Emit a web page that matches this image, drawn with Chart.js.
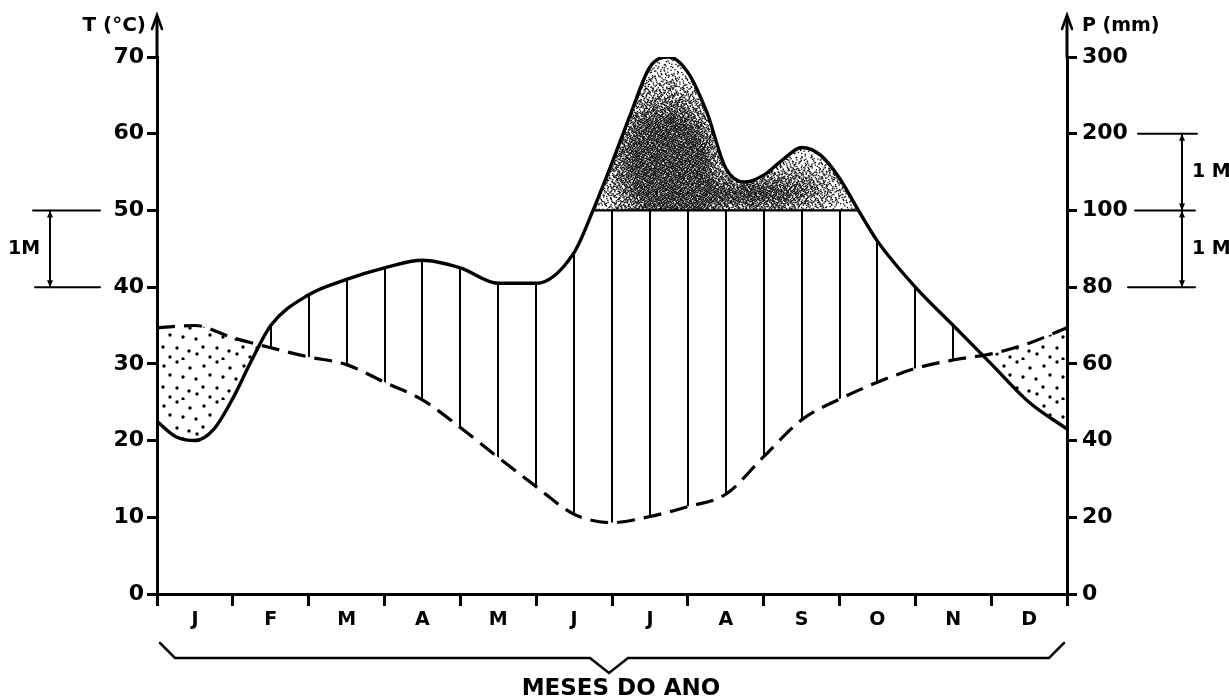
<!DOCTYPE html>
<html>
<head>
<meta charset="utf-8">
<script src="https://cdn.jsdelivr.net/npm/chart.js@4.4.1/dist/chart.umd.min.js"></script>
<style>
html,body{margin:0;padding:0;background:#fff;}
canvas{display:block;}
</style>
</head>
<body>
<canvas id="c" width="1229" height="700"></canvas>
<script>
// ---- data ----
const monthLabels = ['J','F','M','A','M','J','J','A','S','O','N','D'];
const leftTickLabels = ['0','10','20','30','40','50','60','70'];
const rightTickLabels = ['0','20','40','60','80','100','200','300'];

// temperature (°C), dashed curve
const tempMonths = [0,0.5,1,1.5,2,2.5,3,3.5,4,4.5,5,5.5,6,6.5,7,7.5,8,8.5,9,9.5,10,10.5,11,11.5,12];
const tempValues = [34.7,35.0,33.4,32.1,30.9,29.9,27.6,25.3,21.7,17.8,14.0,10.4,9.3,10.1,11.4,13.0,17.9,22.7,25.4,27.6,29.4,30.5,31.3,32.7,34.7];

// precipitation (mm), solid curve
const precipMonths = [0,0.25,0.5,0.75,1,1.25,1.5,2,2.5,3,3.5,4,4.5,5,5.5,5.75,6,6.25,6.5,6.75,7,7.25,7.5,7.75,8,8.25,8.5,8.75,9,9.25,9.5,10,10.5,11,11.5,12];
const precipMm = [45,41,40,43,51,61,70,78,82,85,87,85,81,81,89,100,162,227,287,300,280,228,155,137,146,166,182,172,142,100,92,80,70,60,50,43];

// Walter-Lieth scale: 10 °C = 20 mm up to 100 mm, then 10 °C = 100 mm
const toAxis = mm => mm <= 100 ? mm / 2 : 50 + (mm - 100) / 10;

const tempData = tempMonths.map((m, i) => ({x: m, y: tempValues[i]}));
const precipData = precipMonths.map((m, i) => ({x: m, y: toAxis(precipMm[i])}));
const precipCapped = precipData.map(p => ({x: p.x, y: Math.min(p.y, 50)}));

// ---- patterns ----
const FONT = '"DejaVu Sans", sans-serif';
const cache = {};
function fullCanvas(chart) {
  const c = document.createElement('canvas');
  c.width = chart.width; c.height = chart.height;
  return c;
}
function dotPattern(ctx) {
  if (cache.dots) return cache.dots;
  const c = document.createElement('canvas');
  c.width = 40; c.height = 40;
  const g = c.getContext('2d');
  g.fillStyle = '#000';
  [[4,6],[17,2],[30,8],[10,15],[23,17],[36,19],[3,27],[17,28],[29,31],[10,37],[23,39],[37,34]].forEach(([x, y]) => {
    g.beginPath(); g.arc(x, y, 1.7, 0, Math.PI * 2); g.fill();
  });
  cache.dots = ctx.chart.ctx.createPattern(c, 'repeat');
  return cache.dots;
}
function hatchPattern(ctx) {
  const chart = ctx.chart, xs = chart.scales && chart.scales.x;
  if (!xs || !chart.chartArea) return 'rgba(0,0,0,0)';
  const c = fullCanvas(chart), g = c.getContext('2d');
  g.strokeStyle = '#000'; g.lineWidth = 2;
  for (let k = 0; k <= 24; k++) {
    const x = Math.round(xs.getPixelForValue(k * 0.5));
    g.beginPath(); g.moveTo(x, 0); g.lineTo(x, c.height); g.stroke();
  }
  return chart.ctx.createPattern(c, 'no-repeat');
}
function halton(i, b) { let f = 1, r = 0; while (i > 0) { f /= b; r += f * (i % b); i = Math.floor(i / b); } return r; }
function stipplePattern(ctx) {
  const chart = ctx.chart, xs = chart.scales && chart.scales.x, ys = chart.scales && chart.scales.y;
  if (!xs || !ys || !chart.chartArea) return 'rgba(0,0,0,0.4)';
  const c = fullCanvas(chart), g = c.getContext('2d');
  // density blobs: month, value, sigma x (px), sigma y (px), strength
  const blobs = [[6.6, 56, 34, 48, 1.15], [6.95, 55.5, 22, 38, 0.7], [7.8, 52, 36, 12, 0.75], [8.45, 53.3, 36, 20, 0.45]];
  const P = blobs.map(([m, v, sx, sy, a]) => [xs.getPixelForValue(m), ys.getPixelForValue(v), sx, sy, a]);
  const x0 = xs.getPixelForValue(5.6), x1 = xs.getPixelForValue(9.4);
  const y0 = ys.getPixelForValue(71), y1 = ys.getPixelForValue(50);
  const w = x1 - x0, h = y1 - y0;
  g.fillStyle = '#000';
  const N = 30000;
  for (let i = 1; i <= N; i++) {
    const px = x0 + halton(i, 2) * w, py = y0 + halton(i, 3) * h;
    let d = 0.02;
    for (const [bx, by, sx, sy, a] of P) {
      const dx = px - bx, dy = py - by;
      d += a * Math.exp(-(dx * dx / (2 * sx * sx) + dy * dy / (2 * sy * sy)));
    }
    if (halton(i, 7) < Math.min(d, 0.96)) g.fillRect(px, py, 1.3, 1.3);
  }
  return chart.ctx.createPattern(c, 'no-repeat');
}

// ---- decorations ----
function seg(ctx, x1, y1, x2, y2) { ctx.beginPath(); ctx.moveTo(x1, y1); ctx.lineTo(x2, y2); ctx.stroke(); }
function tip(ctx, x, y, dir) { // small arrow tip; dir -1 up, +1 down
  ctx.beginPath(); ctx.moveTo(x, y); ctx.lineTo(x - 3, y - dir * 7); ctx.lineTo(x + 3, y - dir * 7); ctx.closePath(); ctx.fill();
}
const decor = {
  id: 'decor',
  afterDraw(chart) {
    const {ctx, chartArea: a, scales: {y: ys}} = chart;
    ctx.save();
    ctx.strokeStyle = '#000'; ctx.fillStyle = '#000'; ctx.lineCap = 'round';
    // axis extensions with arrows
    const topY = a.top - 42;
    [a.left, a.right].forEach(ax => {
      ctx.lineWidth = 3;
      seg(ctx, ax, a.top, ax, topY + 2);
      ctx.lineWidth = 2.5;
      ctx.beginPath(); ctx.moveTo(ax - 5, topY + 14); ctx.lineTo(ax, topY); ctx.lineTo(ax + 5, topY + 14); ctx.stroke();
    });
    ctx.font = 'bold 20px ' + FONT;
    ctx.textBaseline = 'middle';
    ctx.textAlign = 'right';
    ctx.fillText('T (°C)', a.left - 11, topY + 11);
    ctx.textAlign = 'left';
    ctx.font = 'bold 19px ' + FONT;
    ctx.fillText('P (mm)', a.right + 15, topY + 11);

    // left 1M bracket
    const y60 = ys.getPixelForValue(60), y50 = ys.getPixelForValue(50), y40 = ys.getPixelForValue(40);
    ctx.lineWidth = 2;
    seg(ctx, a.left - 124, y50, a.left - 57, y50);
    seg(ctx, a.left - 122, y40, a.left - 57, y40);
    const bx = a.left - 107;
    seg(ctx, bx, y50, bx, y40);
    tip(ctx, bx, y50, -1); tip(ctx, bx, y40, 1);
    ctx.font = 'bold 19px ' + FONT;
    ctx.textAlign = 'center';
    ctx.fillText('1M', a.left - 133, (y50 + y40) / 2);

    // right 1M brackets
    seg(ctx, a.right + 71, y60, a.right + 130, y60);
    seg(ctx, a.right + 68, y50, a.right + 128, y50);
    seg(ctx, a.right + 61, y40, a.right + 128, y40);
    const rx = a.right + 115;
    seg(ctx, rx, y60, rx, y40);
    tip(ctx, rx, y60, -1); tip(ctx, rx, y50, 1); tip(ctx, rx, y50, -1); tip(ctx, rx, y40, 1);
    ctx.textAlign = 'left';
    ctx.fillText('1 M', a.right + 125, (y60 + y50) / 2);
    ctx.fillText('1 M', a.right + 125, (y50 + y40) / 2);

    // bottom brace
    const cx = (a.left + a.right) / 2, b = a.bottom;
    ctx.lineWidth = 2.5; ctx.lineJoin = 'miter';
    ctx.beginPath();
    ctx.moveTo(a.left + 3, b + 49);
    ctx.lineTo(a.left + 18, b + 64);
    ctx.lineTo(cx - 22, b + 64);
    ctx.lineTo(cx - 3, b + 79);
    ctx.lineTo(cx + 16, b + 64);
    ctx.lineTo(a.right - 18, b + 64);
    ctx.lineTo(a.right - 3, b + 49);
    ctx.stroke();
    ctx.font = 'bold 23px ' + FONT;
    ctx.textAlign = 'center';
    ctx.fillText('MESES DO ANO', cx + 9, b + 95);
    ctx.restore();
  }
};

Chart.defaults.font.family = FONT;
Chart.defaults.color = '#000';

new Chart(document.getElementById('c'), {
  type: 'line',
  data: {
    datasets: [
      {
        label: 'T (°C)',
        data: tempData,
        borderColor: '#000', borderWidth: 3.2, borderDash: [18, 9],
        backgroundColor: dotPattern,
        fill: {target: 1, below: 'rgba(0,0,0,0)'},
        pointRadius: 0, cubicInterpolationMode: 'monotone', order: 2
      },
      {
        label: 'P cap',
        data: precipCapped,
        borderColor: '#000', borderWidth: 2.2,
        segment: {
          borderColor: c => (c.p0.parsed.y === 50 && c.p1.parsed.y === 50 ? '#000' : 'rgba(0,0,0,0)')
        },
        backgroundColor: hatchPattern,
        fill: {target: 0, below: 'rgba(0,0,0,0)'},
        pointRadius: 0, cubicInterpolationMode: 'monotone', order: 0
      },
      {
        label: 'P (mm)',
        data: precipData,
        borderColor: '#000', borderWidth: 3.4,
        backgroundColor: stipplePattern,
        fill: {target: {value: 50}, below: 'rgba(0,0,0,0)'},
        pointRadius: 0, cubicInterpolationMode: 'monotone', order: 1
      }
    ]
  },
  options: {
    responsive: false,
    animation: false,
    layout: {padding: {top: 57, left: 0, right: 0, bottom: 0}},
    plugins: {legend: {display: false}, tooltip: {enabled: false}},
    scales: {
      x: {
        type: 'linear', position: 'bottom', min: 0, max: 12,
        afterBuildTicks: s => { s.ticks = Array.from({length: 25}, (_, k) => ({value: k * 0.5})); },
        ticks: {
          autoSkip: false, maxRotation: 0, minRotation: 0, padding: 3,
          font: {size: 19, weight: 'bold'}, color: '#000',
          callback: (v, i) => (i % 2 === 1 ? monthLabels[(i - 1) / 2] : '')
        },
        grid: {
          drawOnChartArea: false, drawTicks: true, tickLength: 12, lineWidth: 3,
          color: c => (c.index % 2 === 0 ? '#000' : 'rgba(0,0,0,0)')
        },
        border: {display: true, color: '#000', width: 3},
        afterFit: s => { s.height = 106; }
      },
      y: {
        type: 'linear', position: 'left', min: 0, max: 70,
        afterBuildTicks: s => { s.ticks = leftTickLabels.map((_, k) => ({value: k * 10})); },
        ticks: {
          autoSkip: false, padding: 3, font: {size: 22, weight: 'bold'}, color: '#000',
          callback: (v, i) => leftTickLabels[i]
        },
        grid: {drawOnChartArea: false, tickLength: 10, lineWidth: 3, color: '#000'},
        border: {display: true, color: '#000', width: 3},
        afterFit: s => { s.width = 157; }
      },
      y2: {
        type: 'linear', position: 'right', min: 0, max: 70,
        afterBuildTicks: s => { s.ticks = rightTickLabels.map((_, k) => ({value: k * 10})); },
        ticks: {
          autoSkip: false, padding: 5, font: {size: 22, weight: 'bold'}, color: '#000',
          callback: (v, i) => rightTickLabels[i]
        },
        grid: {drawOnChartArea: false, tickLength: 10, lineWidth: 3, color: '#000'},
        border: {display: true, color: '#000', width: 3},
        afterFit: s => { s.width = 162; }
      }
    }
  },
  plugins: [decor]
});
</script>
</body>
</html>
